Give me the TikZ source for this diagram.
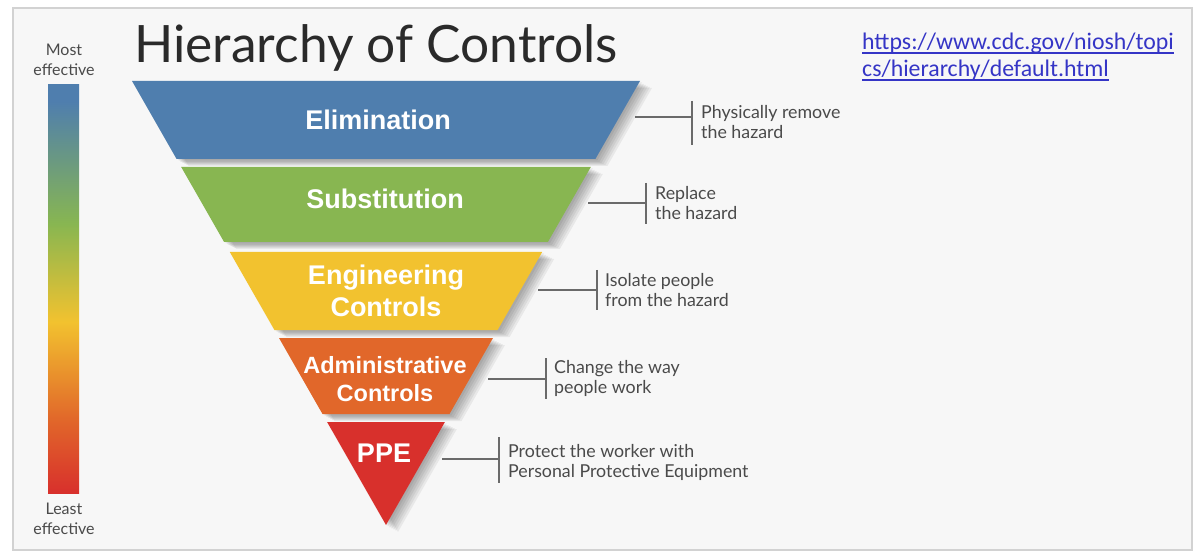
\documentclass[tikz,border=0pt]{standalone}
\usepackage{fontspec}
\setmainfont{Lato}
\newfontfamily\bandfont{Liberation Sans}
\newfontfamily\linkfont{Carlito}

\definecolor{elimblue}{HTML}{4F7EAE}
\definecolor{substgreen}{HTML}{88B651}
\definecolor{enggold}{HTML}{F2C22F}
\definecolor{adminorange}{HTML}{E1672A}
\definecolor{ppered}{HTML}{D8302C}
\definecolor{framegrey}{HTML}{D2D2D2}
\definecolor{panel}{HTML}{F7F7F7}
\definecolor{labelgrey}{HTML}{4A4A4A}
\definecolor{linegrey}{HTML}{6A6A6A}
\definecolor{titlegrey}{HTML}{2A2A2A}
\definecolor{linkblue}{HTML}{3535C6}

% effectiveness scale: red (least) at the bottom, blue (most) at the top
\pgfdeclareverticalshading{effectiveness}{100bp}{%
  color(0bp)=(ppered); color(25bp)=(ppered); color(34bp)=(adminorange);
  color(46bp)=(enggold); color(58bp)=(substgreen); color(73bp)=(elimblue);
  color(100bp)=(elimblue)}

\tikzset{
  bandshadow/.style={fill=black, opacity=0.06},
  bandlabel/.style={font=\bandfont\bfseries\fontsize{27}{32}\selectfont,
    text=white, align=center, inner sep=0},
  smalllabel/.style={font=\bandfont\bfseries\fontsize{23.5}{28}\selectfont,
    text=white, align=center, inner sep=0},
  note/.style={font=\fontsize{17.8}{20.5}\selectfont, text=labelgrey,
    align=left, anchor=west, inner sep=0},
  scalelabel/.style={font=\fontsize{16}{19.5}\selectfont, text=labelgrey,
    align=center, inner sep=0},
  tick/.style={draw=linegrey, line width=1.6pt},
  linkline/.style={anchor=base west, inner sep=0, text=linkblue,
    font=\linkfont\fontsize{23.8}{27}\selectfont},
  underline/.style={draw=linkblue, line width=1.2pt},
}

% soft shadow: the shape repeated with growing offsets
\newcommand\softshadow[1]{%
  \foreach \dx/\dy in {2/1.5,4/3,6/4,8/5,10/6,12/7}
    \fill[bandshadow, xshift=\dx pt, yshift=-\dy pt] #1;}

\begin{document}
\begin{tikzpicture}[x=1pt,y=-1pt]
\useasboundingbox (0,0) rectangle (1199,553);
\fill[white] (0,0) rectangle (1199,553);
\draw[framegrey, fill=panel, line width=1.2pt] (13,8) rectangle (1192,550);

% effectiveness scale
\shade[shading=effectiveness] (48,85) rectangle (79,493);
\node[scalelabel] (most) at (64,60) {Most\\effective};
\node[scalelabel] (least) at (64,519) {Least\\effective};

% title
\node[anchor=base west, inner sep=0, text=titlegrey,
      font=\fontsize{51.5}{56}\selectfont] (title) at (134,63) {Hierarchy of Controls};

% link, underlined line by line
\node[linkline] (link1) at (862,50) {https://www.cdc.gov/niosh/topi};
\node[linkline] (link2) at (862,77) {cs/hierarchy/default.html};
\draw[underline] ([yshift=-3pt]link1.base west) -- ([yshift=-3pt]link1.base east);
\draw[underline] ([yshift=-3pt]link2.base west) -- ([yshift=-3pt]link2.base east);

% shadows of the bands
\softshadow{(132,81) -- (640,81) -- (595.4,159) -- (176.6,159) -- cycle}
\softshadow{(181.2,167) -- (590.8,167) -- (547.9,242) -- (224.1,242) -- cycle}
\softshadow{(229.8,252) -- (542.2,252) -- (497.6,330) -- (274.4,330) -- cycle}
\softshadow{(279,338) -- (493,338) -- (449.5,414) -- (322.5,414) -- cycle}
\softshadow{(327.1,422) -- (444.9,422) -- (386,525) -- cycle}

% bands of the inverted pyramid
\fill[elimblue] (132,81) -- (640,81) -- (595.4,159) -- (176.6,159) -- cycle;
\fill[substgreen] (181.2,167) -- (590.8,167) -- (547.9,242) -- (224.1,242) -- cycle;
\fill[enggold] (229.8,252) -- (542.2,252) -- (497.6,330) -- (274.4,330) -- cycle;
\fill[adminorange] (279,338) -- (493,338) -- (449.5,414) -- (322.5,414) -- cycle;
\fill[ppered] (327.1,422) -- (444.9,422) -- (386,525) -- cycle;

\node[bandlabel] (elim) at (378,120) {Elimination};
\node[bandlabel] (subst) at (385,199) {Substitution};
\node[bandlabel] (eng) at (386,291) {Engineering\\Controls};
\node[smalllabel] (admin) at (385,379) {Administrative\\Controls};
\node[bandlabel] (ppe) at (384,453) {PPE};

% descriptions with their brackets
\coordinate (elimfrom) at (635,117);   \coordinate (elimbar) at (692,117);
\coordinate (substfrom) at (588,203);  \coordinate (substbar) at (646,203);
\coordinate (engfrom) at (538,290);    \coordinate (engbar) at (597,290);
\coordinate (adminfrom) at (488,379);  \coordinate (adminbar) at (546,379);
\coordinate (ppefrom) at (442,459);    \coordinate (ppebar) at (499,459);

\draw[tick] (elimfrom) -- (elimbar);
\draw[tick] ([yshift=16pt]elimbar) -- ([yshift=-28pt]elimbar);
\draw[tick] (substfrom) -- (substbar);
\draw[tick] ([yshift=20pt]substbar) -- ([yshift=-21pt]substbar);
\draw[tick] (engfrom) -- (engbar);
\draw[tick] ([yshift=20pt]engbar) -- ([yshift=-20pt]engbar);
\draw[tick] (adminfrom) -- (adminbar);
\draw[tick] ([yshift=21pt]adminbar) -- ([yshift=-20pt]adminbar);
\draw[tick] (ppefrom) -- (ppebar);
\draw[tick] ([yshift=22pt]ppebar) -- ([yshift=-24pt]ppebar);

\node[note] (elimnote) at (701,122) {Physically remove\\the hazard};
\node[note] (substnote) at (655,203) {Replace\\the hazard};
\node[note] (engnote) at (605,290) {Isolate people\\from the hazard};
\node[note] (adminnote) at (554,378.5) {Change the way\\people work};
\node[note] (ppenote) at (508,462.5) {Protect the worker with\\Personal Protective Equipment};
\end{tikzpicture}
\end{document}
